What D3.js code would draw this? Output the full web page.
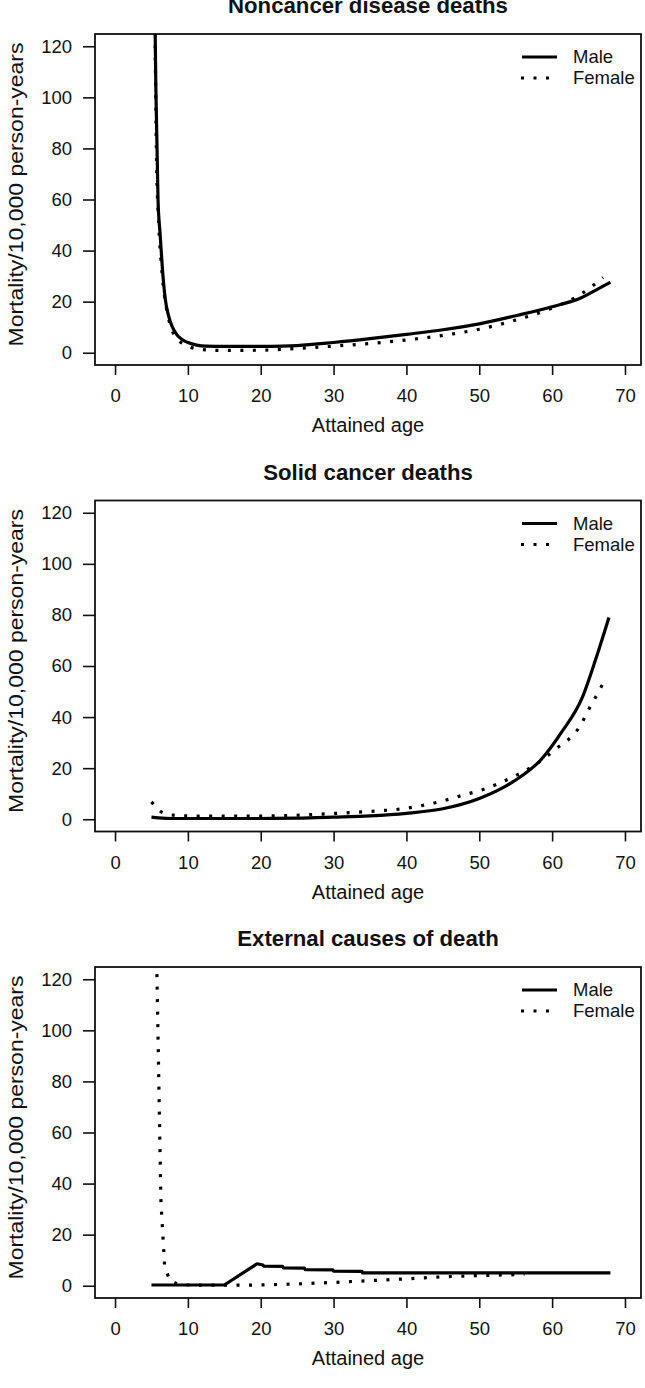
<!DOCTYPE html>
<html><head><meta charset="utf-8">
<script src="https://cdn.jsdelivr.net/npm/d3@7"></script>
<style>
html,body{margin:0;padding:0;background:#fff;}
svg{display:block;font-family:"Liberation Sans",Arial,sans-serif;}
</style></head>
<body>
<svg id="chart" width="645" height="1388"></svg>
<script>
// ---------- data ----------
const panelTitles = ["Noncancer disease deaths", "Solid cancer deaths", "External causes of death"];
const seriesNames = ["Male", "Female"];
const xTicks = [0, 10, 20, 30, 40, 50, 60, 70];
const yTicks = [0, 20, 40, 60, 80, 100, 120];
const xLabel = "Attained age";
const yLabel = "Mortality/10,000 person-years";

// Noncancer disease deaths
const noncancerMaleAge  = [5.45, 5.6, 5.9, 6.2, 6.5, 6.9, 7.3, 7.8, 8.5, 9.3, 10, 11.2, 12.5, 15, 20, 23, 25, 30, 35, 40, 45, 50, 55, 60, 64, 66, 68];
const noncancerMaleRate = [140, 104, 60, 46, 33, 21, 15, 10.5, 7, 5, 4, 3, 2.6, 2.5, 2.5, 2.6, 2.8, 4.0, 5.5, 7.2, 9.0, 11.3, 14.5, 18, 21.5, 24.5, 27.6];
const noncancerFemaleAge  = [5.45, 5.7, 6.0, 6.4, 6.8, 7.3, 7.8, 8.5, 9.3, 10.5, 12, 15, 20, 25, 30, 35, 40, 45, 50, 55, 60, 64, 67];
const noncancerFemaleRate = [140, 75, 50, 33, 22, 14, 9, 5.5, 3.5, 2, 1.2, 0.9, 1.0, 1.7, 2.6, 3.6, 5.0, 6.8, 9.2, 12.8, 17.5, 23, 29.5];

// Solid cancer deaths
const solidMaleAge  = [5, 6, 8, 10, 15, 20, 25, 30, 35, 40, 45, 50, 54.7, 58.5, 61.3, 64.1, 66, 67.8];
const solidMaleRate = [0.8, 0.5, 0.3, 0.3, 0.3, 0.3, 0.4, 0.8, 1.3, 2.3, 4.1, 8.1, 14.8, 23.4, 34.1, 47.4, 62.8, 79];
const solidFemaleAge  = [5, 6.4, 8, 10, 15, 21.6, 28.2, 32.9, 36.2, 39.5, 42.9, 44.5, 47.6, 50.9, 54.2, 57.2, 60.5, 63.9, 65.1, 66.5, 67.4];
const solidFemaleRate = [6.8, 2.8, 1.6, 1.3, 1.2, 1.3, 2.0, 2.7, 3.3, 4.1, 5.8, 6.8, 9.3, 12.0, 16.0, 20.5, 27.5, 36.8, 43.4, 50.5, 55.5];

// External causes of death
const externalMaleAge  = [5, 15, 19.5, 20.3, 20.4, 23, 23.1, 26, 26.1, 29.9, 30, 33.9, 34, 68];
const externalMaleRate = [0.3, 0.3, 8.6, 8.1, 7.7, 7.6, 7.0, 6.9, 6.3, 6.2, 5.7, 5.6, 5.0, 5.0];
const externalFemaleAge  = [5.75, 6.3, 6.8, 7.5, 8.5, 10, 15, 20, 25, 30, 35, 40, 45, 50, 56.2];
const externalFemaleRate = [122, 33, 8, 2, 0.8, 0.3, 0.2, 0.3, 0.7, 1.3, 2.0, 2.7, 3.5, 4.0, 4.4];

const panels = [
  {title: panelTitles[0], smooth: true,  male: [noncancerMaleAge, noncancerMaleRate], female: [noncancerFemaleAge, noncancerFemaleRate]},
  {title: panelTitles[1], smooth: true,  male: [solidMaleAge, solidMaleRate], female: [solidFemaleAge, solidFemaleRate]},
  {title: panelTitles[2], smooth: false, male: [externalMaleAge, externalMaleRate], female: [externalFemaleAge, externalFemaleRate]}
];

// ---------- layout ----------
const svg = d3.select("#chart");
const boxLeft = 95, boxRight = 641, boxH = 331, panelStep = 466.5, firstTop = 34;
const FS = 18.5;
const ink = "#111";

const x = d3.scaleLinear().domain([-2.75, 72.2]).range([boxLeft, boxRight]);

panels.forEach((p, i) => {
  const top = firstTop + i * panelStep, bottom = top + boxH;
  const y = d3.scaleLinear().domain([-4.8, 124.8]).range([bottom, top]);
  const g = svg.append("g");
  const cid = "clip" + i;
  g.append("clipPath").attr("id", cid).append("rect")
    .attr("x", boxLeft).attr("y", top).attr("width", boxRight - boxLeft).attr("height", boxH);

  // axes
  const xa = g.append("g").attr("transform", `translate(0,${bottom})`)
    .call(d3.axisBottom(x).tickValues(xTicks).tickSize(10).tickPadding(14).tickSizeOuter(0));
  xa.select(".domain").remove();
  xa.selectAll("line").attr("stroke", ink).attr("stroke-width", 1.6);
  xa.selectAll("text").attr("font-size", FS).attr("fill", ink).attr("font-family", "Liberation Sans, Arial, sans-serif");

  const ya = g.append("g").attr("transform", `translate(${boxLeft},0)`)
    .call(d3.axisLeft(y).tickValues(yTicks).tickSize(12).tickPadding(11).tickSizeOuter(0));
  ya.select(".domain").remove();
  ya.selectAll("line").attr("stroke", ink).attr("stroke-width", 1.6);
  ya.selectAll("text").attr("font-size", FS).attr("fill", ink).attr("font-family", "Liberation Sans, Arial, sans-serif");

  // box
  g.append("rect").attr("x", boxLeft).attr("y", top).attr("width", boxRight - boxLeft).attr("height", boxH)
    .attr("fill", "none").attr("stroke", ink).attr("stroke-width", 1.8);

  // title
  g.append("text").attr("x", (boxLeft + boxRight) / 2).attr("y", top - 21)
    .attr("text-anchor", "middle").attr("font-size", 22.2).attr("font-weight", "bold").attr("fill", ink)
    .text(p.title);
  // axis titles
  g.append("text").attr("x", (boxLeft + boxRight) / 2).attr("y", bottom + 67)
    .attr("text-anchor", "middle").attr("font-size", 20).attr("fill", ink).text(xLabel);
  g.append("text").attr("transform", `translate(23,${(top + bottom) / 2 - 5}) rotate(-90) scale(1,0.85)`)
    .attr("text-anchor", "middle").attr("font-size", 23).attr("fill", ink).text(yLabel);

  // lines
  const line = d3.line().x(d => x(d[0])).y(d => y(d[1]))
    .curve(p.smooth ? d3.curveMonotoneX : d3.curveLinear);
  const toPts = s => s[0].map((a, k) => [a, s[1][k]]);
  const lg = g.append("g").attr("clip-path", `url(#${cid})`);
  lg.append("path").attr("d", line(toPts(p.male))).attr("fill", "none")
    .attr("stroke", "#000").attr("stroke-width", 3.2).attr("stroke-linejoin", "round");
  lg.append("path").attr("d", line(toPts(p.female))).attr("fill", "none")
    .attr("stroke", "#000").attr("stroke-width", 3.2).attr("stroke-dasharray", "3,9.5");

  // legend
  const ly = top + 23;
  g.append("line").attr("x1", 522).attr("x2", 557).attr("y1", ly).attr("y2", ly)
    .attr("stroke", "#000").attr("stroke-width", 3.2);
  g.append("line").attr("x1", 521).attr("x2", 557).attr("y1", ly + 21).attr("y2", ly + 21)
    .attr("stroke", "#000").attr("stroke-width", 3.2).attr("stroke-dasharray", "3,9.5");
  seriesNames.forEach((n, k) => {
    g.append("text").attr("x", 573).attr("y", ly + k * 21).attr("dy", "0.35em")
      .attr("font-size", FS).attr("fill", ink).text(n);
  });
});
</script>
</body></html>
